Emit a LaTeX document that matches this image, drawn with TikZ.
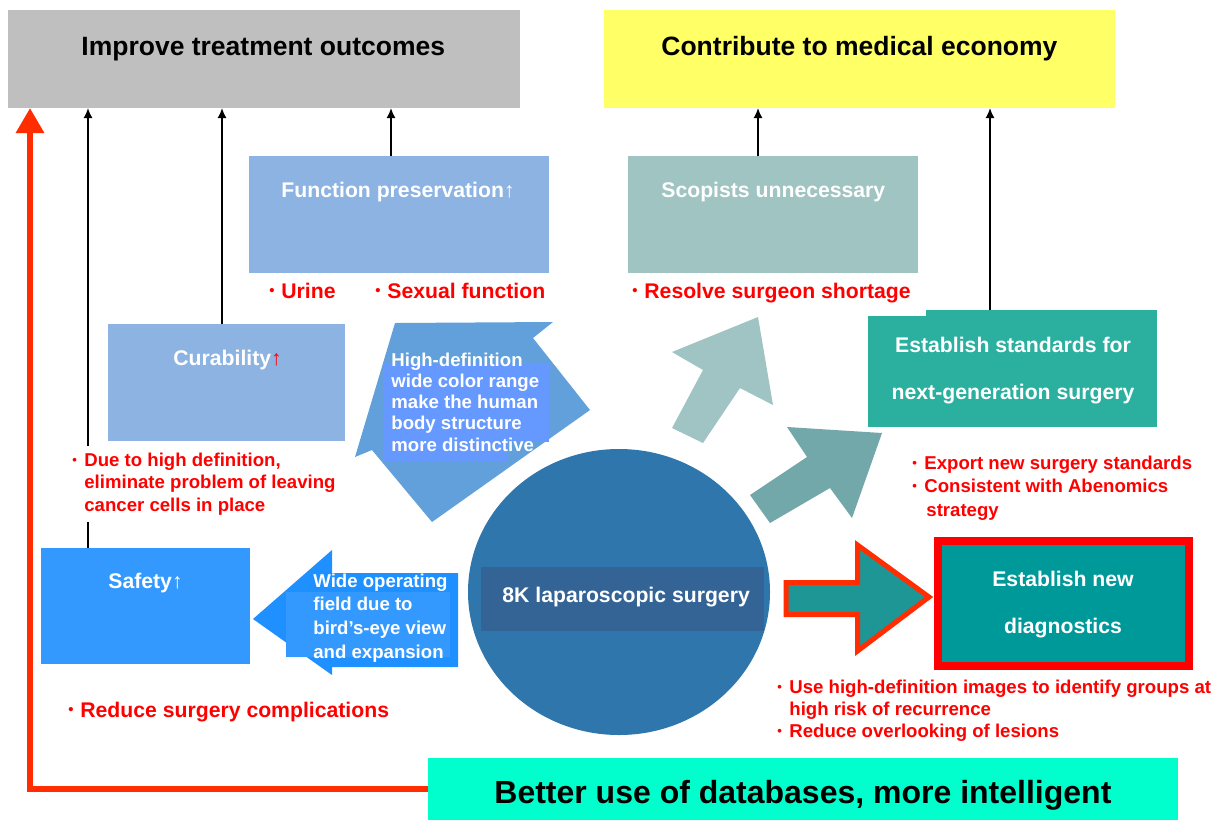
\documentclass[tikz,border=0pt]{standalone}
\usepackage{fontspec}
\setmainfont{Liberation Sans}
\usetikzlibrary{arrows.meta,calc,fit,shapes.geometric}
\definecolor{cgray}{RGB}{191,191,191}
\definecolor{cyellow}{RGB}{255,255,102}
\definecolor{cfp}{RGB}{141,179,226}
\definecolor{cscop}{RGB}{160,196,194}
\definecolor{cstd}{RGB}{43,176,160}
\definecolor{cdiag}{RGB}{0,153,153}
\definecolor{csafe}{RGB}{51,153,255}
\definecolor{ccircle}{RGB}{46,118,172}
\definecolor{clabel}{RGB}{52,100,150}
\definecolor{cbluearr}{RGB}{98,160,220}
\definecolor{cbluetxt}{RGB}{102,153,255}
\definecolor{cleftarr}{RGB}{30,144,255}
\definecolor{cteala}{RGB}{160,196,196}
\definecolor{ctealb}{RGB}{115,168,170}
\definecolor{cbigarr}{RGB}{30,150,150}
\definecolor{corange}{RGB}{255,45,0}
\definecolor{cbottom}{RGB}{0,255,204}
\definecolor{cred}{RGB}{255,0,0}
\newcommand{\bul}{\makebox[6pt][l]{\raisebox{0.2ex}{\scalebox{0.7}{•}}}}
\newcommand{\ind}{\hspace*{6pt}}
\newcommand{\ml}[1]{\begin{tabular}[t]{@{}l@{}}#1\end{tabular}}
\newcommand{\mc}[1]{\begin{tabular}[t]{@{}c@{}}#1\end{tabular}}
\tikzset{
  box/.style={inner sep=0pt, outer sep=0pt, draw=none},
  ttl/.style={font=\fontsize{13.25}{15}\selectfont\bfseries, anchor=base west, inner sep=0pt},
  btxt/.style={text=white, font=\fontsize{10.6}{#1}\selectfont\bfseries, anchor=base west, inner sep=0pt},
  btxt/.default=12.7,
  rtxt/.style={text=cred, font=\fontsize{10.6}{12.7}\selectfont\bfseries, anchor=base west, inner sep=0pt},
  rsmall/.style={text=cred, font=\fontsize{9.3}{#1}\selectfont\bfseries, anchor=base west, inner sep=0pt},
  rsmall/.default=11.3,
  wsmall/.style={text=white, font=\fontsize{9.3}{#1}\selectfont\bfseries, anchor=base west, inner sep=0pt},
  wsmall/.default=11,
  blk/.style={draw=black, line width=0.8pt, -{Latex[length=5pt,width=4.5pt]}},
  redconn/.style={draw=corange, line width=3pt, -{Triangle[length=12.5pt,width=13.5pt]}},
}
\begin{document}
\begin{tikzpicture}[x=0.5pt, y=-0.5pt]
\useasboundingbox (0,0) rectangle (1220,820);
\fill[white] (0,0) rectangle (1220,820);

% top goal boxes
\node[box, fill=cgray, fit={(8,10)(520,108)}] (imp) {};
\node[box, fill=cyellow, fit={(604,10)(1115,108)}] (eco) {};
\node[ttl] (impt) at (81,55) {Improve treatment outcomes};
\node[ttl] (ecot) at (661,55) {Contribute to medical economy};

% effect boxes
\node[box, fill=cfp, fit={(249,156)(549,273)}] (fp) {};
\node[box, fill=cscop, fit={(628,156)(918,273)}] (scop) {};
\node[box, fill=cfp, fit={(108,324)(345,441)}] (cur) {};
\node[box, fill=csafe, fit={(41,548)(250,664)}] (safe) {};
\node[box, fill=cstd, fit={(868,316)(1157,427)}] (std) {};
\fill[cstd] (926,310) rectangle (1157,317);
\node[box, fill=cdiag, draw=cred, line width=4pt, fit={(938,541)(1188.5,665.5)}] (diag) {};
\node[box, fill=cbottom, fit={(428,758)(1178,820)}] (bot) {};

\node[btxt] (fpt) at (281,197) {Function preservation↑};
\node[btxt] (scopt) at (661,197) {Scopists unnecessary};
\node[btxt] (curt) at (173,365) {Curability{\color{cred}↑}};
\node[btxt] (safet) at (108,588) {Safety↑};
\node[btxt=23.5, anchor=base] (stdt) at (1013,352) {\mc{Establish standards for\\next-generation surgery}};
\node[btxt=23.5, anchor=base] (diagt) at (1063,586) {\mc{Establish new\\diagnostics}};

% connectors to goals
\coordinate (a1) at ($(safe.north west)+(47,0)$);
\coordinate (a2) at ($(cur.north west)+(114,0)$);
\coordinate (a3) at ($(fp.north west)+(142,0)$);
\coordinate (a4) at ($(scop.north west)+(130,0)$);
\coordinate (a5) at ($(std.north west)+(122,-6)$);
\draw[blk] (a1) -- (a1 |- imp.south);
\draw[blk] (a2) -- (a2 |- imp.south);
\draw[blk] (a3) -- (a3 |- imp.south);
\draw[blk] (a4) -- (a4 |- eco.south);
\draw[blk] (a5) -- (a5 |- eco.south);
\coordinate (rc) at ($(imp.south west)+(22,0)$);
\draw[redconn] (bot.west) -| (rc);

% red labels
\node[rtxt] (urine) at (269,298) {\bul Urine};
\node[rtxt] (sex) at (375,298) {\bul Sexual function};
\node[rtxt] (resolve) at (632,298) {\bul Resolve surgeon shortage};
\node[rsmall=11.25, fill=white, inner sep=2pt] (due) at (68,466) {\ml{\bul Due to high definition,\\\ind eliminate problem of leaving\\\ind cancer cells in place}};
\node[rtxt] (compl) at (68,717) {\bul Reduce surgery complications};
\node[rsmall=11.75] (export) at (912,469) {\ml{\bul Export new surgery standards\\\bul Consistent with Abenomics\\\ind\hspace*{1pt}strategy}};
\node[rsmall=11] (usehd) at (777,693) {\ml{\bul Use high-definition images to identify groups at\\\ind high risk of recurrence\\\bul Reduce overlooking of lesions}};

% central circle
\node[ellipse, fill=ccircle, minimum width=151pt, minimum height=143pt, inner sep=0pt] (core) at (619,592) {};
\node[box, fill=clabel, fit={(481,567)(764,631)}] (lab) {};
\node[btxt] (labt) at (502,602) {8K laparoscopic surgery};

% block arrows
\fill[cbluearr] (395,323) -- (553,322) -- (533,338) -- (590,410) -- (432,522) -- (372,450) -- (355,457) -- cycle;
\fill[cbluetxt] (383,363) rectangle (549,442);
\fill[cbluetxt] (383,441) rectangle (507,462);
\node[wsmall=10.65] (hdt) at (391,366) {\ml{High-definition\\wide color range\\make the human\\body structure\\more distinctive}};

\fill[cleftarr] (253,619) -- (332,550) -- (332,573) -- (458,573) -- (458,667) -- (332,667) -- (332,675) -- cycle;
\fill[csafe] (286,592) rectangle (450,657);
\node[wsmall=11.85] (wot) at (313,587) {\ml{Wide operating\\field due to\\bird’s-eye view\\and expansion}};

\fill[cteala] (758,317) -- (773,405) -- (740,388) -- (703,443) -- (672,428) -- (703,370) -- (672,352) -- cycle;
\fill[ctealb] (882,433) -- (852,518) -- (830,488) -- (770,523) -- (750,495) -- (807,457) -- (787,427) -- cycle;

\filldraw[fill=cbigarr, draw=corange, line width=2.5pt, line join=miter]
  (786,582.5) -- (857.5,582.5) -- (857.5,545) -- (929,597) -- (857.5,651) -- (857.5,614.5) -- (786,614.5) -- cycle;

% bottom text
\node[font=\fontsize{16}{19}\selectfont\bfseries, anchor=base west, inner sep=0pt] (bott) at (494,803) {Better use of databases, more intelligent};
\end{tikzpicture}
\end{document}
